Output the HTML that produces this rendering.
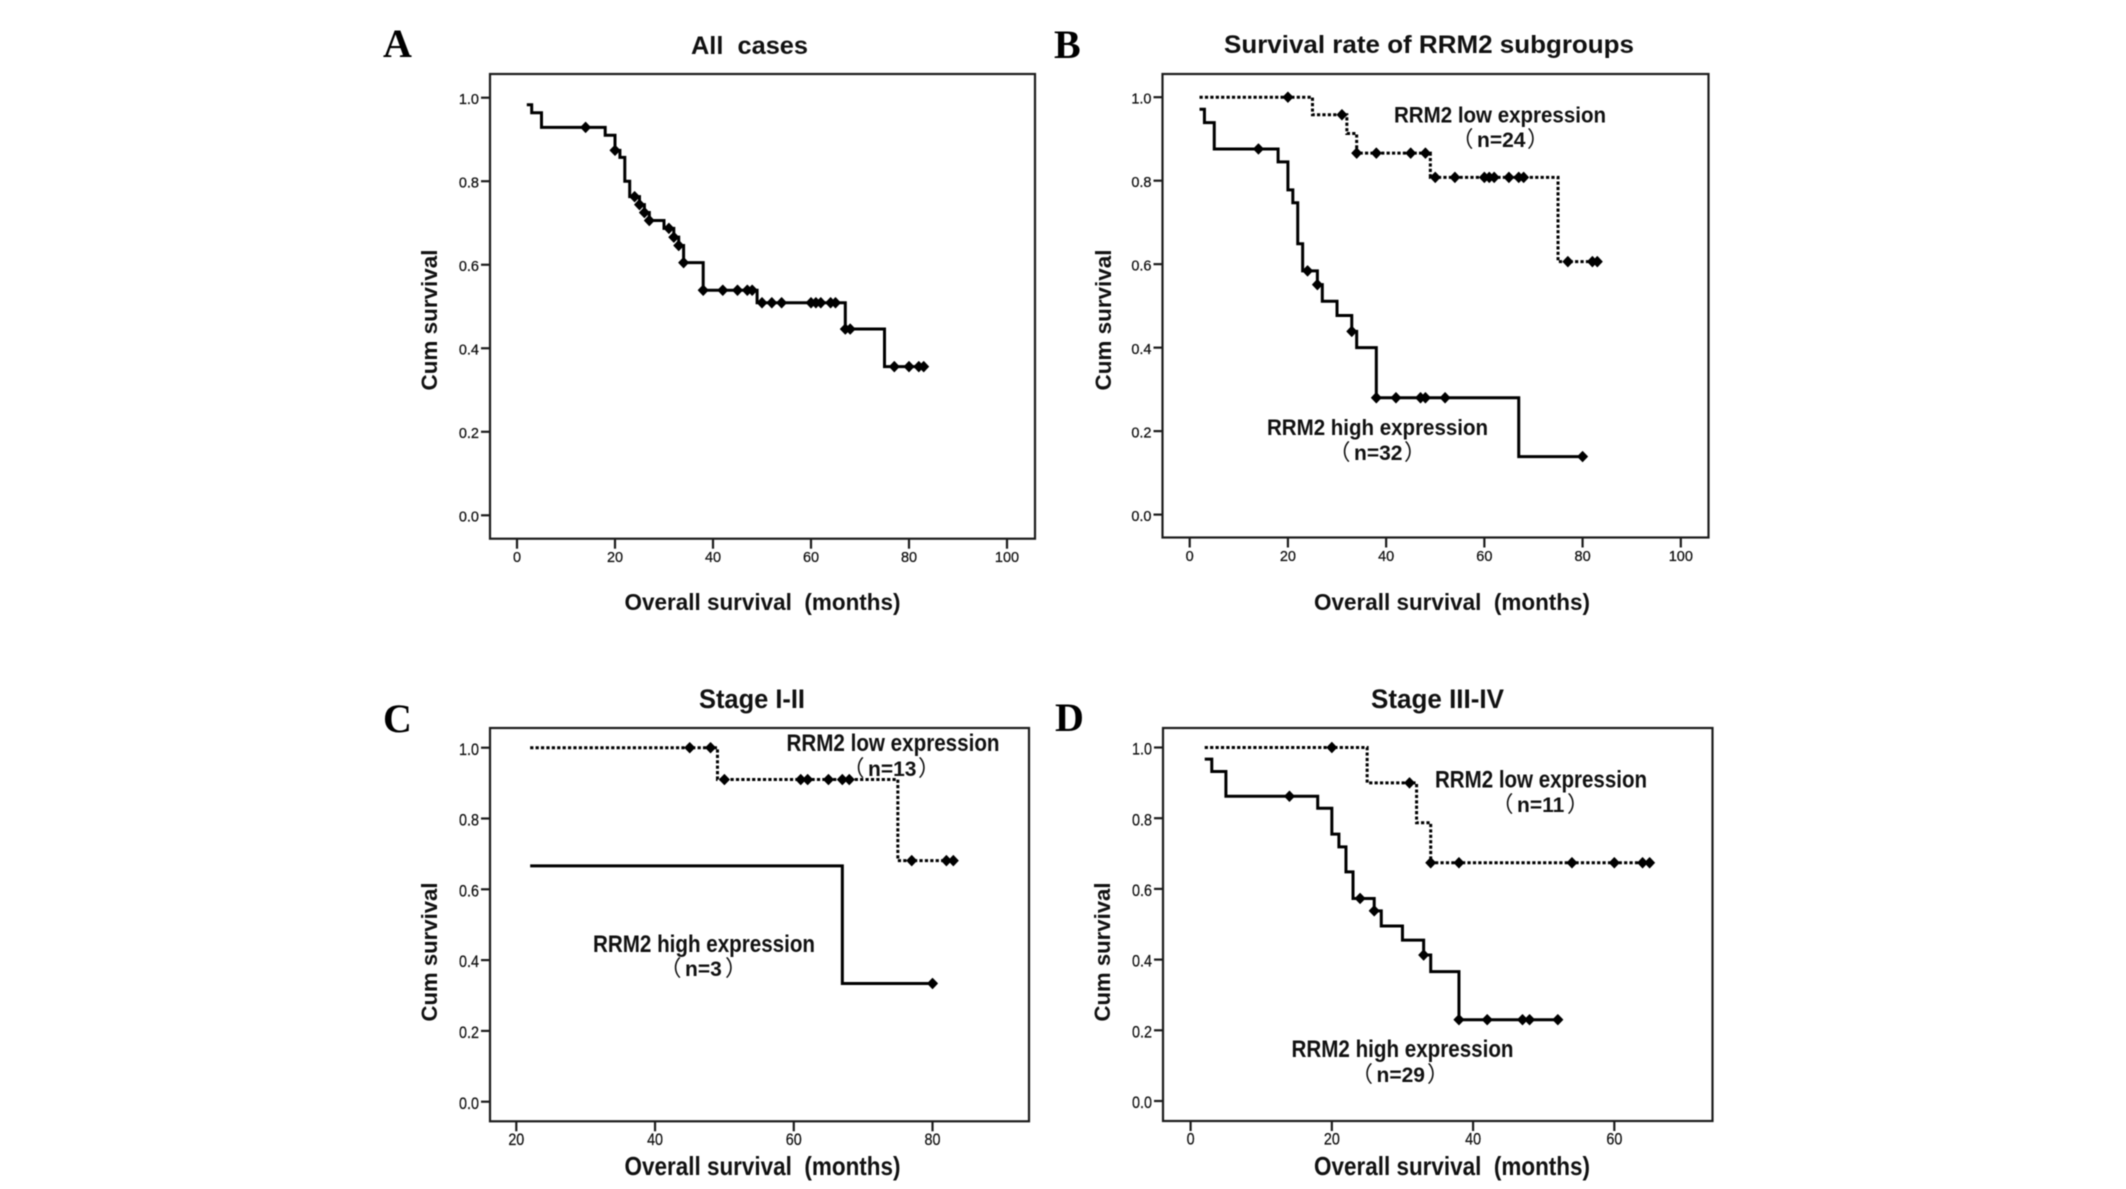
<!DOCTYPE html>
<html lang="en">
<head>
<meta charset="utf-8">
<title>RRM2 survival curves</title>
<style>
html,body{margin:0;padding:0;background:#fff;}
svg{display:block;filter:blur(0.4px);}
text{font-family:"Liberation Sans","Noto Sans CJK SC",sans-serif;fill:#111;}
.letter{font-family:"Liberation Serif",serif;font-weight:bold;font-size:40px;fill:#000;}
.title,.xt,.yt,.lab{font-weight:bold;}
.nlab{font-size:21px;font-weight:bold;}
.paren{font-family:"Noto Sans CJK SC",sans-serif;font-weight:400;font-size:22px;}
.tick-label{stroke:#111;stroke-width:0.25;}
</style>
</head>
<body>
<svg id="chart" xmlns="http://www.w3.org/2000/svg" width="2126" height="1189" viewBox="0 0 2126 1189">
  <rect x="0" y="0" width="2126" height="1189" fill="#fff"/>

  <text class="letter" x="383" y="57">A</text>
  <text class="letter" x="1054" y="58">B</text>
  <text class="letter" x="383" y="732">C</text>
  <text class="letter" x="1055" y="731">D</text>

  <text class="title" x="691" y="54" font-size="25" textLength="117" lengthAdjust="spacingAndGlyphs" xml:space="preserve">All  cases</text>
  <text class="title" x="1224" y="53" font-size="25" textLength="410" lengthAdjust="spacingAndGlyphs">Survival rate of RRM2 subgroups</text>
  <text class="title" x="699" y="708" font-size="27" textLength="106" lengthAdjust="spacingAndGlyphs">Stage I-II</text>
  <text class="title" x="1371" y="708" font-size="27" textLength="133" lengthAdjust="spacingAndGlyphs">Stage III-IV</text>

  <text class="xt" x="624.5" y="610" font-size="23" textLength="276" lengthAdjust="spacingAndGlyphs" xml:space="preserve">Overall survival  (months)</text>
  <text class="xt" x="1314" y="610" font-size="23" textLength="276" lengthAdjust="spacingAndGlyphs" xml:space="preserve">Overall survival  (months)</text>
  <text class="xt" x="624.5" y="1175" font-size="26" textLength="276" lengthAdjust="spacingAndGlyphs" xml:space="preserve">Overall survival  (months)</text>
  <text class="xt" x="1314" y="1175" font-size="26" textLength="276" lengthAdjust="spacingAndGlyphs" xml:space="preserve">Overall survival  (months)</text>

  <text class="yt" transform="translate(437,390.5) rotate(-90)" font-size="22.5" textLength="141" lengthAdjust="spacingAndGlyphs">Cum survival</text>
  <text class="yt" transform="translate(1111,390.5) rotate(-90)" font-size="22.5" textLength="141" lengthAdjust="spacingAndGlyphs">Cum survival</text>
  <text class="yt" transform="translate(437,1021.5) rotate(-90)" font-size="22.5" textLength="139" lengthAdjust="spacingAndGlyphs">Cum survival</text>
  <text class="yt" transform="translate(1110,1021.5) rotate(-90)" font-size="22.5" textLength="139" lengthAdjust="spacingAndGlyphs">Cum survival</text>

  <text class="lab" x="1394" y="122.5" font-size="22" textLength="212" lengthAdjust="spacingAndGlyphs">RRM2 low expression</text>
  <text class="nlab" y="147"><tspan class="paren" x="1451.5">（</tspan><tspan x="1477">n=24</tspan><tspan class="paren" x="1527">）</tspan></text>
  <text class="lab" x="1267" y="435" font-size="22" textLength="221" lengthAdjust="spacingAndGlyphs">RRM2 high expression</text>
  <text class="nlab" y="460"><tspan class="paren" x="1328.5">（</tspan><tspan x="1354">n=32</tspan><tspan class="paren" x="1404">）</tspan></text>

  <text class="lab" x="786.5" y="751" font-size="24" textLength="213" lengthAdjust="spacingAndGlyphs">RRM2 low expression</text>
  <text class="nlab" y="776"><tspan class="paren" x="842.5">（</tspan><tspan x="868">n=13</tspan><tspan class="paren" x="918">）</tspan></text>
  <text class="lab" x="593" y="952" font-size="24" textLength="222" lengthAdjust="spacingAndGlyphs">RRM2 high expression</text>
  <text class="nlab" y="976"><tspan class="paren" x="659.5">（</tspan><tspan x="685">n=3</tspan><tspan class="paren" x="725">）</tspan></text>

  <text class="lab" x="1435" y="787.5" font-size="24" textLength="212" lengthAdjust="spacingAndGlyphs">RRM2 low expression</text>
  <text class="nlab" y="812"><tspan class="paren" x="1491.5">（</tspan><tspan x="1517">n=11</tspan><tspan class="paren" x="1567">）</tspan></text>
  <text class="lab" x="1291.5" y="1057" font-size="24" textLength="222" lengthAdjust="spacingAndGlyphs">RRM2 high expression</text>
  <text class="nlab" y="1082"><tspan class="paren" x="1351">（</tspan><tspan x="1376.5">n=29</tspan><tspan class="paren" x="1427">）</tspan></text>
</svg>

<script>
// Shared axis tick labels
var yTicks = [0, 0.2, 0.4, 0.6, 0.8, 1.0];
var xTicksAB = [0, 20, 40, 60, 80, 100];
var xTicksC = [20, 40, 60, 80];
var xTicksD = [0, 20, 40, 60];

// Panel A: all cases
var aTimes = [2, 3, 5, 18, 20, 21, 22, 23, 25, 26, 27, 30, 32, 33, 34, 38, 49, 67, 75];
var aSurvival = [0.983, 0.964, 0.929, 0.910, 0.874, 0.857, 0.800, 0.763, 0.744, 0.725, 0.706, 0.687, 0.666, 0.646, 0.605, 0.539, 0.509, 0.446, 0.356];
var aEnd = 83;
var aCensored = [14, 20, 24, 25, 26, 27, 31, 32, 33, 34, 38, 42, 45, 47, 48, 50, 52, 54, 60, 61, 62, 64, 65, 67, 68, 77, 80, 82, 83];

// Panel B: RRM2 subgroups
var bHighTimes = [2, 3, 5, 18, 20, 21, 22, 23, 26, 27, 30, 33, 34, 38, 67];
var bHighSurvival = [0.971, 0.939, 0.876, 0.845, 0.778, 0.747, 0.649, 0.584, 0.551, 0.511, 0.477, 0.439, 0.400, 0.280, 0.139];
var bHighEnd = 80;
var bHighCensored = [14, 24, 26, 33, 38, 42, 47, 48, 52, 80];
var bLowTimes = [2, 25, 32, 34, 49, 75];
var bLowSurvival = [1.0, 0.958, 0.913, 0.866, 0.808, 0.606];
var bLowEnd = 83;
var bLowCensored = [20, 31, 34, 38, 45, 48, 50, 54, 60, 61, 62, 65, 67, 68, 77, 82, 83];

// Panel C: stage I-II
var cHighTimes = [22, 67];
var cHighSurvival = [0.666, 0.334];
var cHighEnd = 80;
var cHighCensored = [80];
var cLowTimes = [22, 49, 75];
var cLowSurvival = [1.0, 0.91, 0.681];
var cLowEnd = 83;
var cLowCensored = [45, 48, 50, 61, 62, 65, 67, 68, 77, 82, 83];

// Panel D: stage III-IV
var dHighTimes = [2, 3, 5, 18, 20, 21, 22, 23, 26, 27, 30, 33, 34, 38];
var dHighSurvival = [0.967, 0.932, 0.862, 0.828, 0.755, 0.719, 0.648, 0.573, 0.538, 0.495, 0.455, 0.413, 0.366, 0.230];
var dHighEnd = 52;
var dHighCensored = [14, 24, 26, 33, 38, 42, 47, 48, 52];
var dLowTimes = [2, 25, 32, 34];
var dLowSurvival = [1.0, 0.90, 0.787, 0.674];
var dLowEnd = 65;
var dLowCensored = [20, 31, 34, 38, 54, 60, 64, 65];

var NS = 'http://www.w3.org/2000/svg';
var chart = document.getElementById('chart');
var INK = '#1c1c1c';

function mk(tag, attrs, parent) {
  var el = document.createElementNS(NS, tag);
  for (var k in attrs) el.setAttribute(k, attrs[k]);
  (parent || chart).appendChild(el);
  return el;
}

function survivalAt(times, values, t) {
  var v = values[0];
  for (var i = 0; i < times.length; i++) {
    if (times[i] <= t) v = values[i];
  }
  return v;
}

function drawCurve(g, id, style, times, values, end, censored, X, Y) {
  var d = 'M' + X(times[0]) + ' ' + Y(values[0]);
  for (var i = 1; i < times.length; i++) {
    d += 'H' + X(times[i]) + 'V' + Y(values[i]);
  }
  d += 'H' + X(end);
  var line = mk('path', {
    d: d, fill: 'none', stroke: '#000',
    'stroke-width': 3,
    'stroke-dasharray': style === 'dotted' ? '3.2 2.2' : 'none',
    'stroke-linejoin': 'miter'
  }, g);
  
  

  censored.forEach(function (t) {
    var cx = X(t), cy = Y(survivalAt(times, values, t));
    var mark = mk('path', {
      d: 'M' + (cx - 5) + ' ' + cy + 'L' + cx + ' ' + (cy - 5.2) +
         'L' + (cx + 5) + ' ' + cy + 'L' + cx + ' ' + (cy + 5.2) + 'Z',
      fill: '#000', stroke: '#000', 'stroke-width': 0.8, 'stroke-linejoin': 'round'
    }, g);
    
    
  });
}

function drawPanel(id, box, xMap, yMap, xTicks, tickFont, tickSx, series) {
  var X = function (t) { return xMap.p0 + (t - xMap.t0) * xMap.k; };
  var Y = function (v) { return yMap.zero + (yMap.one - yMap.zero) * v; };

  var g = mk('g', {});
  
  

  var frame = mk('rect', {
    x: box.l, y: box.t, width: box.r - box.l, height: box.b - box.t,
    fill: 'none', stroke: INK, 'stroke-width': 2.2
  }, g);
  
  

  yTicks.forEach(function (v) {
    var y = Y(v);
    var tick = mk('line', { x1: box.l - 9, x2: box.l, y1: y, y2: y, stroke: INK, 'stroke-width': 2.2 }, g);
    
    
    var label = mk('text', {
      class: 'tick-label',
      transform: 'translate(' + (box.l - 11) + ',' + (y + tickFont * 0.43) + ') scale(' + tickSx + ',1)',
      'font-size': tickFont, 'text-anchor': 'end'
    }, g);
    label.textContent = v.toFixed(1);
    
    
  });

  xTicks.forEach(function (t) {
    var x = X(t);
    var tick = mk('line', { x1: x, x2: x, y1: box.b, y2: box.b + 10, stroke: INK, 'stroke-width': 2.2 }, g);
    
    
    var label = mk('text', {
      class: 'tick-label',
      transform: 'translate(' + x + ',' + (box.b + 23.5) + ') scale(' + tickSx + ',1)',
      'font-size': tickFont, 'text-anchor': 'middle'
    }, g);
    label.textContent = String(t);
    
    
  });

  series.forEach(function (s) {
    drawCurve(g, id + '-' + s.name, s.style, s.times, s.values, s.end, s.censored, X, Y);
  });
}

drawPanel('panel-a',
  { l: 490, r: 1035, t: 74, b: 538.7 },
  { t0: 0, p0: 517, k: 4.9 },
  { one: 97.7, zero: 515.3 },
  xTicksAB, 14.5, 1,
  [{ name: 'all-cases', style: 'solid', times: aTimes, values: aSurvival, end: aEnd, censored: aCensored }]);

drawPanel('panel-b',
  { l: 1162.5, r: 1708.5, t: 74, b: 537.5 },
  { t0: 0, p0: 1189.7, k: 4.911 },
  { one: 97.2, zero: 514.6 },
  xTicksAB, 14.5, 1,
  [{ name: 'low-expression', style: 'dotted', times: bLowTimes, values: bLowSurvival, end: bLowEnd, censored: bLowCensored },
   { name: 'high-expression', style: 'solid', times: bHighTimes, values: bHighSurvival, end: bHighEnd, censored: bHighCensored }]);

drawPanel('panel-c',
  { l: 490, r: 1029, t: 728, b: 1121.3 },
  { t0: 20, p0: 516.3, k: 6.937 },
  { one: 747.7, zero: 1101.7 },
  xTicksC, 16.5, 0.87,
  [{ name: 'low-expression', style: 'dotted', times: cLowTimes, values: cLowSurvival, end: cLowEnd, censored: cLowCensored },
   { name: 'high-expression', style: 'solid', times: cHighTimes, values: cHighSurvival, end: cHighEnd, censored: cHighCensored }]);

drawPanel('panel-d',
  { l: 1163, r: 1712.5, t: 728, b: 1121 },
  { t0: 0, p0: 1190.6, k: 7.062 },
  { one: 747.5, zero: 1101 },
  xTicksD, 16.5, 0.87,
  [{ name: 'low-expression', style: 'dotted', times: dLowTimes, values: dLowSurvival, end: dLowEnd, censored: dLowCensored },
   { name: 'high-expression', style: 'solid', times: dHighTimes, values: dHighSurvival, end: dHighEnd, censored: dHighCensored }]);
</script>
</body>
</html>
